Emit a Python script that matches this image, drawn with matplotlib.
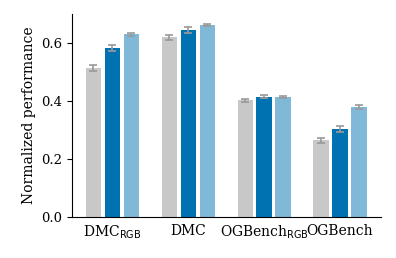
import numpy as np
import matplotlib
matplotlib.use("Agg")
import matplotlib.pyplot as plt

plt.rcParams["font.family"] = "DejaVu Serif"
plt.rcParams["mathtext.fontset"] = "dejavusans"

# data
grupos = ["DMC$_{\\rm RGB}$", "DMC", "OGBench$_{\\rm RGB}$", "OGBench"]
base = [0.513, 0.619, 0.402, 0.264]
base_err = [0.010, 0.010, 0.005, 0.008]
metodo_a = [0.582, 0.644, 0.415, 0.303]
metodo_a_err = [0.010, 0.010, 0.006, 0.009]
metodo_b = [0.630, 0.662, 0.413, 0.379]
metodo_b_err = [0.005, 0.005, 0.004, 0.008]

cores = ["#c8c8c8", "#0072b2", "#80b8d8"]

fig = plt.figure(figsize=(3.96, 2.58), dpi=100)
ax = fig.add_axes([0.182, 0.159, 0.78, 0.787])

x = np.arange(len(grupos))
largura = 0.2
offsets = [-0.25, 0.0, 0.25]
series = [(base, base_err), (metodo_a, metodo_a_err), (metodo_b, metodo_b_err)]

for (vals, errs), off, cor in zip(series, offsets, cores):
    ax.bar(x + off, vals, largura, color=cor, yerr=errs,
           error_kw=dict(ecolor="#999999", elinewidth=1.2, capsize=3, capthick=1.2))

ax.set_xticks(x)
ax.set_xticklabels(grupos, fontsize=10)
ax.tick_params(axis="x", length=0, pad=5)
ax.tick_params(axis="y", labelsize=9.5)
ax.set_yticks([0.0, 0.2, 0.4, 0.6])
ax.set_ylim(0, 0.70)
ax.set_xlim(-0.53, 3.54)
ax.set_ylabel("Normalized performance", fontsize=10)

ax.spines["top"].set_visible(False)
ax.spines["right"].set_visible(False)

fig.savefig("out.png", dpi=100)
